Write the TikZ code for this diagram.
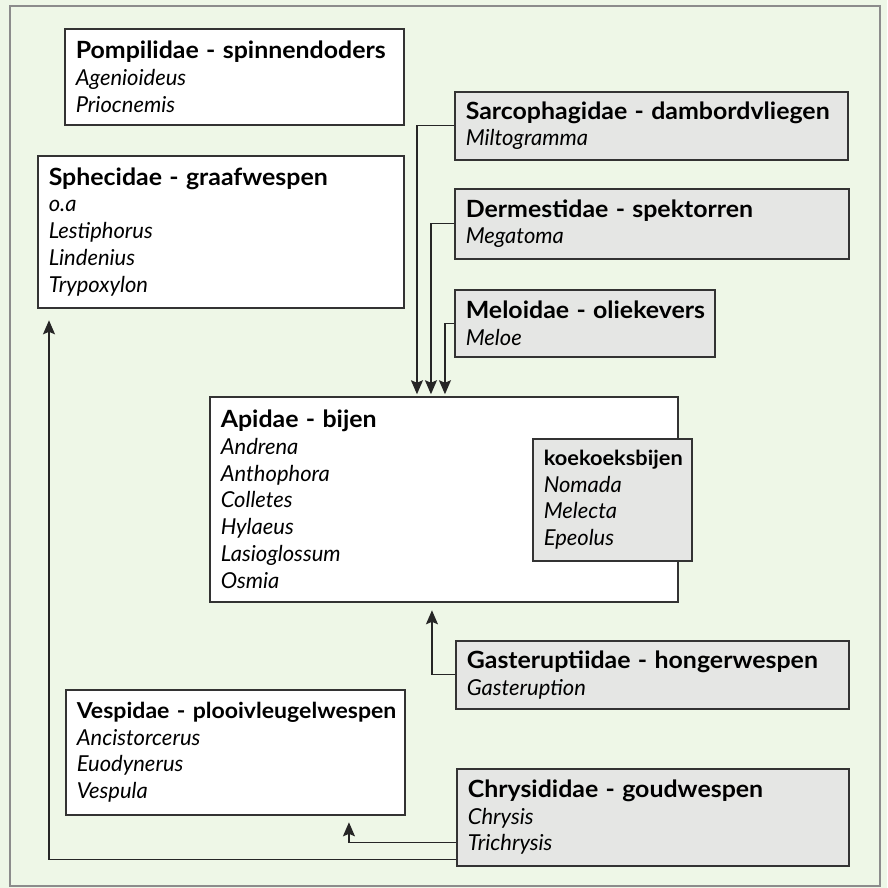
\documentclass[tikz,border=0pt]{standalone}
\usepackage{fontspec}
\setmainfont{Lato}
\newfontfamily\titlefont{Lato}[FakeStretch=1.05]
\usepackage{xcolor}
\usepackage{tikz}
\usetikzlibrary{calc}
\usetikzlibrary{arrows.meta}

\definecolor{paleGreen}{RGB}{238,247,231}
\definecolor{boxGray}{RGB}{229,230,228}

\newcommand{\famname}[2][13.5]{\mbox{\titlefont\bfseries\fontsize{#1}{15.2}\selectfont #2}}

\begin{document}
\begin{tikzpicture}[x=0.02cm, y=-0.02cm, font=\fontsize{12.5}{15.2}\selectfont,
		famwhite/.style={draw=black!80, line width=0.9pt, fill=white, anchor=north west,
			align=left, inner xsep=0.22cm, inner ysep=0pt},
		famgray/.style={famwhite, fill=boxGray},
		link/.style={draw=black!85, line width=0.7pt, shorten >=1pt,
			-{Stealth[length=2.8mm, width=2.4mm, inset=0.5mm]}}]
		% ---- Page and frame (pixel grid, 1px = 0.02cm) ----
		\useasboundingbox (0,0) rectangle (887,888);
		\fill[paleGreen] (0,0) rectangle (887,888);
		\draw[black!45, line width=1pt] (10,6) rectangle (880,886);
		
		% ---- Hosts (white boxes) ----
		\node[famwhite, text width=6.34cm, minimum height=1.92cm] (pompil) at (64,28)
		{\famname{Pompilidae - spinnendoders}\\ \textit{Agenioideus}\\ \textit{Priocnemis}};
		\node[famwhite, text width=6.88cm, minimum height=3.04cm] (sphec) at (37,155)
		{\famname{Sphecidae - graafwespen}\\ \textit{o.a}\\ \textit{Lestiphorus}\\ \textit{Lindenius}\\ \textit{Trypoxylon}};
		\node[famwhite, text width=8.92cm, minimum height=4.10cm] (apidae) at (209,396)
		{\famname{Apidae - bijen}\\ \textit{Andrena}\\ \textit{Anthophora}\\ \textit{Colletes}\\ \textit{Hylaeus}\\ \textit{Lasioglossum}\\ \textit{Osmia}};
		\node[famwhite, text width=6.34cm, minimum height=2.50cm] (vesp) at (65,689)
		{\famname[12.5]{Vespidae - plooivleugelwespen}\\ \textit{Ancistorcerus}\\ \textit{Euodynerus}\\ \textit{Vespula}};
		
		% ---- Parasites (grey boxes) ----
		\node[famgray, text width=7.42cm, minimum height=1.36cm] (sarco) at (454,91)
		{\famname{Sarcophagidae - dambordvliegen}\\ \textit{Miltogramma}};
		\node[famgray, text width=7.44cm, minimum height=1.40cm] (derm) at (454,188)
		{\famname{Dermestidae - spektorren}\\ \textit{Megatoma}};
		\node[famgray, text width=4.76cm, minimum height=1.34cm] (melo) at (454,289)
		{\famname{Meloidae - oliekevers}\\ \textit{Meloe}};
		\node[famgray, text width=2.74cm, minimum height=2.44cm] (koek) at (532,438)
		{\famname[11.8]{koekoeksbijen}\\ \textit{Nomada}\\ \textit{Melecta}\\ \textit{Epeolus}};
		\node[famgray, text width=7.42cm, minimum height=1.36cm] (gaster) at (455,640)
		{\famname{Gasteruptiidae - hongerwespen}\\ \textit{Gasteruption}};
		\node[famgray, text width=7.40cm, minimum height=1.94cm] (chrys) at (456,768)
		{\famname{Chrysididae - goudwespen}\\ \textit{Chrysis}\\ \textit{Trichrysis}};
		
		% ---- Connectors ----
		\draw[link] (sarco.west) -| ([xshift=4.16cm]apidae.north west);
		\draw[link] (derm.west) -| ([xshift=4.44cm]apidae.north west);
		\draw[link] (melo.west) -| ([xshift=4.72cm]apidae.north west);
		\draw[link] (gaster.west) -| ([xshift=4.46cm, yshift=-0.12cm]apidae.south west);
		\draw[link] ([yshift=0.48cm]chrys.south west) -| ([xshift=5.68cm, yshift=-0.1cm]vesp.south west);
		\draw[link] ([yshift=0.14cm]chrys.south west) -| ([xshift=0.24cm, yshift=-0.2cm]sphec.south west);
		
	\end{tikzpicture}
\end{document}
